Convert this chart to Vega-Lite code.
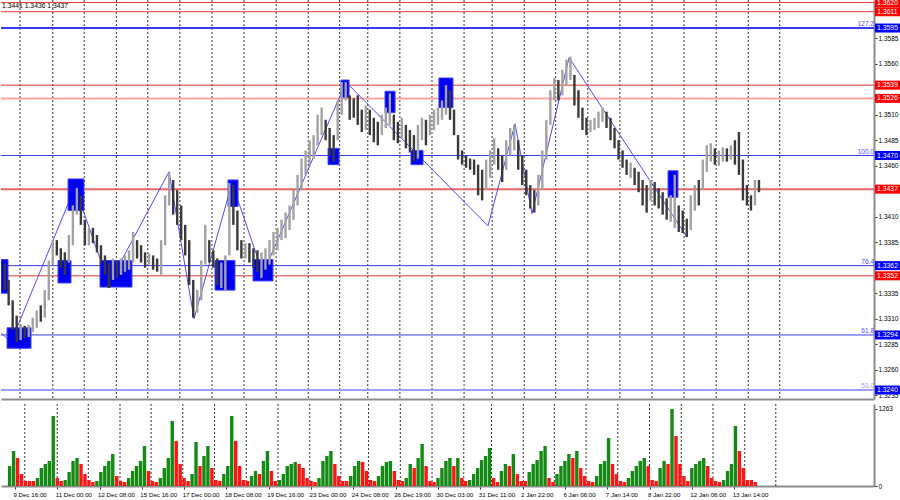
{
"$schema":"https://vega.github.io/schema/vega-lite/v6.json",
"padding":{"left":0,"top":-2,"right":0,"bottom":0},
"background":"white",
"spacing":3,
"config":{"view":{"stroke":null},"font":"Liberation Sans","axis":{"labelFont":"Liberation Sans","labelFontSize":6.5,"labelColor":"#000","grid":false,"minExtent":0}},
"datasets":{
"grid":[{"t":7.5},{"t":32},{"t":55.5},{"t":79.5},{"t":103},{"t":127},{"t":151},{"t":175},{"t":199},{"t":223},{"t":246.5},{"t":267.5},{"t":291.5},{"t":315.5},{"t":339.5},{"t":360.5},{"t":384.5},{"t":408},{"t":432},{"t":456},{"t":480},{"t":504},{"t":528},{"t":552},{"t":575.5}],
"levels":[{"p":1.3620,"k":"res"},{"p":1.3611,"k":"res"},{"p":1.3595,"k":"fibT","r":"127.2"},{"p":1.3539,"k":"res"},{"p":1.3526,"k":"res2"},{"p":1.3470,"k":"fib","r":"100.0"},{"p":1.3437,"k":"key"},{"p":1.3362,"k":"fib","r":"76.4"},{"p":1.3352,"k":"res"},{"p":1.3294,"k":"fib","r":"61.8"},{"p":1.3240,"k":"fibL","r":"50.0"}],
"zz":[{"t":-6.7,"p":1.3296},{"t":0.75,"p":1.3287},{"t":48.6,"p":1.3439},{"t":74,"p":1.3344},{"t":118.9,"p":1.3454},{"t":137.6,"p":1.3310},{"t":166,"p":1.3443},{"t":189.2,"p":1.3354},{"t":251.2,"p":1.3542},{"t":357.4,"p":1.3401},{"t":377.6,"p":1.3501},{"t":390.3,"p":1.3413},{"t":418,"p":1.3566},{"t":506.2,"p":1.3390}],
"boxes":[{"x1":-6.7,"x2":-1.5,"p1":1.3368,"p2":1.3335},{"x1":-2.2,"x2":15.7,"p1":1.3301,"p2":1.3281},{"x1":35.9,"x2":45.6,"p1":1.3367,"p2":1.3345},{"x1":43.4,"x2":55.3,"p1":1.3447,"p2":1.3416},{"x1":67.3,"x2":91.2,"p1":1.3367,"p2":1.3341},{"x1":153.3,"x2":168.2,"p1":1.3367,"p2":1.3338},{"x1":163,"x2":170.5,"p1":1.3446,"p2":1.3420},{"x1":181.7,"x2":196.6,"p1":1.3368,"p2":1.3347},{"x1":237.8,"x2":246,"p1":1.3477,"p2":1.3461},{"x1":247.5,"x2":253.5,"p1":1.3544,"p2":1.3527},{"x1":280.4,"x2":287.9,"p1":1.3533,"p2":1.3512},{"x1":299.8,"x2":308.8,"p1":1.3475,"p2":1.3461},{"x1":320.7,"x2":331.2,"p1":1.3546,"p2":1.3517},{"x1":492,"x2":499.4,"p1":1.3455,"p2":1.3429}],
"bars":[
{"t":-4,"h":1.3364,"l":1.3338,"d":"d","v":328,"vc":"g"},
{"t":-1,"h":1.3348,"l":1.3323,"d":"d","v":574,"vc":"g"},
{"t":2,"h":1.3328,"l":1.3299,"d":"d","v":459,"vc":"r"},
{"t":5,"h":1.3313,"l":1.3287,"d":"d","v":197,"vc":"r"},
{"t":8,"h":1.3304,"l":1.3289,"d":"u","v":82,"vc":"r"},
{"t":11,"h":1.3303,"l":1.3291,"d":"d","v":82,"vc":"r"},
{"t":14,"h":1.3304,"l":1.3292,"d":"u","v":82,"vc":"r"},
{"t":17,"h":1.3311,"l":1.3297,"d":"u","v":131,"vc":"g"},
{"t":20,"h":1.3318,"l":1.3301,"d":"u","v":295,"vc":"g"},
{"t":23,"h":1.3323,"l":1.3307,"d":"d","v":361,"vc":"g"},
{"t":26,"h":1.3338,"l":1.3311,"d":"u","v":410,"vc":"g"},
{"t":29,"h":1.3367,"l":1.3328,"d":"u","v":1148,"vc":"g"},
{"t":32,"h":1.3387,"l":1.3363,"d":"u","v":131,"vc":"r"},
{"t":35,"h":1.3387,"l":1.3372,"d":"d","v":82,"vc":"r"},
{"t":38,"h":1.3379,"l":1.3360,"d":"d","v":98,"vc":"g"},
{"t":41,"h":1.3375,"l":1.3353,"d":"d","v":230,"vc":"g"},
{"t":44,"h":1.3392,"l":1.3365,"d":"u","v":410,"vc":"g"},
{"t":47,"h":1.3421,"l":1.3382,"d":"u","v":459,"vc":"g"},
{"t":50,"h":1.3438,"l":1.3412,"d":"u","v":361,"vc":"r"},
{"t":53,"h":1.3431,"l":1.3402,"d":"d","v":197,"vc":"r"},
{"t":56,"h":1.3407,"l":1.3382,"d":"d","v":98,"vc":"r"},
{"t":59,"h":1.3399,"l":1.3382,"d":"u","v":66,"vc":"r"},
{"t":62,"h":1.3399,"l":1.3384,"d":"d","v":82,"vc":"g"},
{"t":65,"h":1.3392,"l":1.3375,"d":"d","v":230,"vc":"g"},
{"t":68,"h":1.3382,"l":1.3365,"d":"d","v":328,"vc":"g"},
{"t":71,"h":1.3372,"l":1.3353,"d":"d","v":410,"vc":"g"},
{"t":74,"h":1.3365,"l":1.3340,"d":"d","v":525,"vc":"g"},
{"t":77,"h":1.3369,"l":1.3348,"d":"u","v":164,"vc":"r"},
{"t":80,"h":1.3367,"l":1.3350,"d":"d","v":82,"vc":"r"},
{"t":83,"h":1.3369,"l":1.3353,"d":"u","v":66,"vc":"r"},
{"t":86,"h":1.3372,"l":1.3356,"d":"u","v":131,"vc":"g"},
{"t":89,"h":1.3377,"l":1.3358,"d":"u","v":246,"vc":"g"},
{"t":92,"h":1.3395,"l":1.3365,"d":"u","v":328,"vc":"g"},
{"t":95,"h":1.3387,"l":1.3369,"d":"d","v":410,"vc":"g"},
{"t":98,"h":1.3382,"l":1.3365,"d":"d","v":656,"vc":"g"},
{"t":101,"h":1.3375,"l":1.3360,"d":"d","v":246,"vc":"r"},
{"t":104,"h":1.3374,"l":1.3363,"d":"u","v":82,"vc":"r"},
{"t":107,"h":1.3372,"l":1.3358,"d":"d","v":66,"vc":"r"},
{"t":110,"h":1.3369,"l":1.3356,"d":"d","v":131,"vc":"g"},
{"t":113,"h":1.3387,"l":1.3353,"d":"u","v":295,"vc":"g"},
{"t":116,"h":1.3431,"l":1.3382,"d":"u","v":459,"vc":"g"},
{"t":119,"h":1.3453,"l":1.3421,"d":"u","v":1066,"vc":"g"},
{"t":122,"h":1.3446,"l":1.3412,"d":"d","v":738,"vc":"r"},
{"t":125,"h":1.3436,"l":1.3402,"d":"d","v":361,"vc":"r"},
{"t":128,"h":1.3421,"l":1.3387,"d":"d","v":131,"vc":"r"},
{"t":131,"h":1.3402,"l":1.3372,"d":"d","v":82,"vc":"r"},
{"t":134,"h":1.3387,"l":1.3343,"d":"d","v":197,"vc":"g"},
{"t":137,"h":1.3348,"l":1.3311,"d":"d","v":722,"vc":"g"},
{"t":140,"h":1.3338,"l":1.3316,"d":"u","v":328,"vc":"r"},
{"t":143,"h":1.3367,"l":1.3328,"d":"u","v":492,"vc":"g"},
{"t":146,"h":1.3402,"l":1.3363,"d":"u","v":656,"vc":"g"},
{"t":149,"h":1.3387,"l":1.3365,"d":"d","v":295,"vc":"r"},
{"t":152,"h":1.3377,"l":1.3360,"d":"d","v":98,"vc":"r"},
{"t":155,"h":1.3369,"l":1.3343,"d":"d","v":82,"vc":"r"},
{"t":158,"h":1.3365,"l":1.3340,"d":"u","v":197,"vc":"g"},
{"t":161,"h":1.3372,"l":1.3338,"d":"u","v":328,"vc":"g"},
{"t":164,"h":1.3443,"l":1.3372,"d":"u","v":1148,"vc":"g"},
{"t":167,"h":1.3441,"l":1.3402,"d":"d","v":738,"vc":"r"},
{"t":170,"h":1.3416,"l":1.3377,"d":"d","v":328,"vc":"r"},
{"t":173,"h":1.3387,"l":1.3369,"d":"d","v":98,"vc":"r"},
{"t":176,"h":1.3384,"l":1.3369,"d":"u","v":82,"vc":"r"},
{"t":179,"h":1.3384,"l":1.3365,"d":"d","v":164,"vc":"g"},
{"t":182,"h":1.3379,"l":1.3360,"d":"d","v":246,"vc":"g"},
{"t":185,"h":1.3377,"l":1.3356,"d":"d","v":197,"vc":"r"},
{"t":188,"h":1.3375,"l":1.3350,"d":"u","v":410,"vc":"g"},
{"t":191,"h":1.3379,"l":1.3358,"d":"u","v":574,"vc":"g"},
{"t":194,"h":1.3387,"l":1.3363,"d":"u","v":246,"vc":"r"},
{"t":197,"h":1.3395,"l":1.3372,"d":"u","v":82,"vc":"r"},
{"t":200,"h":1.3399,"l":1.3377,"d":"u","v":98,"vc":"g"},
{"t":203,"h":1.3407,"l":1.3387,"d":"u","v":197,"vc":"g"},
{"t":206,"h":1.3414,"l":1.3389,"d":"u","v":328,"vc":"g"},
{"t":209,"h":1.3421,"l":1.3397,"d":"u","v":361,"vc":"g"},
{"t":212,"h":1.3436,"l":1.3407,"d":"u","v":394,"vc":"g"},
{"t":215,"h":1.3451,"l":1.3421,"d":"u","v":361,"vc":"r"},
{"t":218,"h":1.3467,"l":1.3436,"d":"u","v":295,"vc":"r"},
{"t":221,"h":1.3475,"l":1.3451,"d":"u","v":131,"vc":"r"},
{"t":224,"h":1.3485,"l":1.3461,"d":"u","v":82,"vc":"r"},
{"t":227,"h":1.3490,"l":1.3467,"d":"u","v":66,"vc":"r"},
{"t":230,"h":1.3510,"l":1.3480,"d":"u","v":131,"vc":"g"},
{"t":233,"h":1.3517,"l":1.3490,"d":"u","v":410,"vc":"g"},
{"t":236,"h":1.3505,"l":1.3485,"d":"d","v":492,"vc":"g"},
{"t":239,"h":1.3497,"l":1.3470,"d":"d","v":574,"vc":"g"},
{"t":242,"h":1.3490,"l":1.3464,"d":"d","v":361,"vc":"r"},
{"t":245,"h":1.3524,"l":1.3485,"d":"u","v":164,"vc":"r"},
{"t":248,"h":1.3542,"l":1.3510,"d":"u","v":82,"vc":"r"},
{"t":251,"h":1.3542,"l":1.3524,"d":"u","v":82,"vc":"r"},
{"t":254,"h":1.3529,"l":1.3505,"d":"d","v":164,"vc":"g"},
{"t":257,"h":1.3526,"l":1.3507,"d":"d","v":328,"vc":"g"},
{"t":260,"h":1.3529,"l":1.3500,"d":"d","v":410,"vc":"g"},
{"t":263,"h":1.3515,"l":1.3493,"d":"d","v":394,"vc":"r"},
{"t":266,"h":1.3519,"l":1.3495,"d":"u","v":246,"vc":"r"},
{"t":269,"h":1.3515,"l":1.3490,"d":"d","v":98,"vc":"r"},
{"t":272,"h":1.3507,"l":1.3483,"d":"d","v":82,"vc":"r"},
{"t":275,"h":1.3503,"l":1.3480,"d":"d","v":164,"vc":"g"},
{"t":278,"h":1.3510,"l":1.3490,"d":"u","v":328,"vc":"g"},
{"t":281,"h":1.3517,"l":1.3497,"d":"u","v":394,"vc":"g"},
{"t":284,"h":1.3531,"l":1.3500,"d":"u","v":410,"vc":"g"},
{"t":287,"h":1.3510,"l":1.3485,"d":"d","v":246,"vc":"r"},
{"t":290,"h":1.3503,"l":1.3482,"d":"d","v":98,"vc":"r"},
{"t":293,"h":1.3507,"l":1.3487,"d":"u","v":82,"vc":"r"},
{"t":296,"h":1.3500,"l":1.3477,"d":"d","v":131,"vc":"g"},
{"t":299,"h":1.3495,"l":1.3473,"d":"d","v":361,"vc":"g"},
{"t":302,"h":1.3490,"l":1.3464,"d":"d","v":295,"vc":"r"},
{"t":305,"h":1.3500,"l":1.3467,"d":"u","v":459,"vc":"g"},
{"t":308,"h":1.3507,"l":1.3485,"d":"u","v":689,"vc":"g"},
{"t":311,"h":1.3505,"l":1.3480,"d":"d","v":328,"vc":"r"},
{"t":314,"h":1.3510,"l":1.3490,"d":"u","v":82,"vc":"r"},
{"t":317,"h":1.3515,"l":1.3495,"d":"u","v":66,"vc":"r"},
{"t":320,"h":1.3517,"l":1.3500,"d":"u","v":131,"vc":"g"},
{"t":323,"h":1.3524,"l":1.3505,"d":"u","v":295,"vc":"g"},
{"t":326,"h":1.3539,"l":1.3510,"d":"u","v":410,"vc":"g"},
{"t":329,"h":1.3534,"l":1.3505,"d":"d","v":459,"vc":"g"},
{"t":332,"h":1.3515,"l":1.3490,"d":"d","v":328,"vc":"r"},
{"t":335,"h":1.3490,"l":1.3466,"d":"d","v":459,"vc":"g"},
{"t":338,"h":1.3475,"l":1.3461,"d":"d","v":131,"vc":"r"},
{"t":341,"h":1.3470,"l":1.3458,"d":"d","v":82,"vc":"r"},
{"t":344,"h":1.3467,"l":1.3456,"d":"d","v":98,"vc":"g"},
{"t":347,"h":1.3466,"l":1.3451,"d":"d","v":197,"vc":"g"},
{"t":350,"h":1.3461,"l":1.3431,"d":"d","v":295,"vc":"g"},
{"t":353,"h":1.3456,"l":1.3426,"d":"d","v":426,"vc":"g"},
{"t":356,"h":1.3466,"l":1.3436,"d":"u","v":492,"vc":"g"},
{"t":359,"h":1.3475,"l":1.3448,"d":"u","v":623,"vc":"g"},
{"t":362,"h":1.3487,"l":1.3461,"d":"u","v":131,"vc":"r"},
{"t":365,"h":1.3477,"l":1.3456,"d":"d","v":66,"vc":"r"},
{"t":368,"h":1.3470,"l":1.3444,"d":"d","v":246,"vc":"g"},
{"t":371,"h":1.3485,"l":1.3456,"d":"u","v":361,"vc":"g"},
{"t":374,"h":1.3497,"l":1.3470,"d":"u","v":328,"vc":"r"},
{"t":377,"h":1.3500,"l":1.3475,"d":"u","v":525,"vc":"g"},
{"t":380,"h":1.3485,"l":1.3456,"d":"d","v":197,"vc":"r"},
{"t":383,"h":1.3470,"l":1.3441,"d":"d","v":82,"vc":"r"},
{"t":386,"h":1.3456,"l":1.3431,"d":"d","v":82,"vc":"r"},
{"t":389,"h":1.3441,"l":1.3418,"d":"d","v":230,"vc":"g"},
{"t":392,"h":1.3436,"l":1.3414,"d":"d","v":361,"vc":"g"},
{"t":395,"h":1.3451,"l":1.3421,"d":"u","v":426,"vc":"g"},
{"t":398,"h":1.3475,"l":1.3436,"d":"u","v":574,"vc":"g"},
{"t":401,"h":1.3505,"l":1.3466,"d":"u","v":656,"vc":"g"},
{"t":404,"h":1.3534,"l":1.3500,"d":"u","v":131,"vc":"r"},
{"t":407,"h":1.3546,"l":1.3524,"d":"u","v":66,"vc":"r"},
{"t":410,"h":1.3544,"l":1.3524,"d":"d","v":197,"vc":"g"},
{"t":413,"h":1.3554,"l":1.3529,"d":"u","v":328,"vc":"g"},
{"t":416,"h":1.3564,"l":1.3539,"d":"u","v":410,"vc":"g"},
{"t":419,"h":1.3567,"l":1.3544,"d":"u","v":525,"vc":"g"},
{"t":422,"h":1.3549,"l":1.3519,"d":"d","v":459,"vc":"r"},
{"t":425,"h":1.3534,"l":1.3507,"d":"d","v":574,"vc":"g"},
{"t":428,"h":1.3517,"l":1.3495,"d":"d","v":295,"vc":"r"},
{"t":431,"h":1.3507,"l":1.3490,"d":"d","v":164,"vc":"r"},
{"t":434,"h":1.3505,"l":1.3493,"d":"u","v":82,"vc":"r"},
{"t":437,"h":1.3507,"l":1.3495,"d":"u","v":66,"vc":"r"},
{"t":440,"h":1.3513,"l":1.3497,"d":"u","v":164,"vc":"g"},
{"t":443,"h":1.3517,"l":1.3503,"d":"u","v":361,"vc":"g"},
{"t":446,"h":1.3513,"l":1.3497,"d":"d","v":410,"vc":"g"},
{"t":449,"h":1.3507,"l":1.3485,"d":"d","v":787,"vc":"g"},
{"t":452,"h":1.3497,"l":1.3477,"d":"d","v":361,"vc":"r"},
{"t":455,"h":1.3485,"l":1.3466,"d":"d","v":197,"vc":"r"},
{"t":458,"h":1.3475,"l":1.3458,"d":"d","v":82,"vc":"r"},
{"t":461,"h":1.3466,"l":1.3451,"d":"d","v":66,"vc":"r"},
{"t":464,"h":1.3463,"l":1.3448,"d":"u","v":131,"vc":"g"},
{"t":467,"h":1.3458,"l":1.3441,"d":"d","v":246,"vc":"g"},
{"t":470,"h":1.3454,"l":1.3434,"d":"d","v":328,"vc":"g"},
{"t":473,"h":1.3446,"l":1.3421,"d":"d","v":410,"vc":"g"},
{"t":476,"h":1.3441,"l":1.3414,"d":"d","v":459,"vc":"g"},
{"t":479,"h":1.3446,"l":1.3426,"d":"u","v":328,"vc":"r"},
{"t":482,"h":1.3444,"l":1.3421,"d":"d","v":98,"vc":"r"},
{"t":485,"h":1.3438,"l":1.3418,"d":"d","v":82,"vc":"r"},
{"t":488,"h":1.3434,"l":1.3412,"d":"d","v":295,"vc":"g"},
{"t":491,"h":1.3428,"l":1.3407,"d":"d","v":410,"vc":"g"},
{"t":494,"h":1.3431,"l":1.3405,"d":"u","v":361,"vc":"r"},
{"t":497,"h":1.3451,"l":1.3399,"d":"u","v":1263,"vc":"g"},
{"t":500,"h":1.3421,"l":1.3395,"d":"d","v":820,"vc":"r"},
{"t":503,"h":1.3416,"l":1.3394,"d":"d","v":361,"vc":"r"},
{"t":506,"h":1.3408,"l":1.3390,"d":"d","v":164,"vc":"r"},
{"t":509,"h":1.3431,"l":1.3397,"d":"u","v":82,"vc":"r"},
{"t":512,"h":1.3441,"l":1.3416,"d":"u","v":295,"vc":"g"},
{"t":515,"h":1.3446,"l":1.3421,"d":"d","v":361,"vc":"g"},
{"t":518,"h":1.3466,"l":1.3436,"d":"u","v":410,"vc":"g"},
{"t":521,"h":1.3480,"l":1.3454,"d":"u","v":459,"vc":"g"},
{"t":524,"h":1.3482,"l":1.3464,"d":"u","v":328,"vc":"r"},
{"t":527,"h":1.3477,"l":1.3461,"d":"d","v":131,"vc":"r"},
{"t":530,"h":1.3475,"l":1.3460,"d":"u","v":82,"vc":"r"},
{"t":533,"h":1.3478,"l":1.3464,"d":"u","v":66,"vc":"r"},
{"t":536,"h":1.3477,"l":1.3464,"d":"d","v":98,"vc":"g"},
{"t":539,"h":1.3480,"l":1.3466,"d":"u","v":246,"vc":"g"},
{"t":542,"h":1.3485,"l":1.3461,"d":"d","v":361,"vc":"g"},
{"t":545,"h":1.3493,"l":1.3451,"d":"d","v":984,"vc":"g"},
{"t":548,"h":1.3466,"l":1.3426,"d":"d","v":574,"vc":"r"},
{"t":551,"h":1.3441,"l":1.3421,"d":"d","v":295,"vc":"r"},
{"t":554,"h":1.3431,"l":1.3416,"d":"d","v":98,"vc":"r"},
{"t":557,"h":1.3446,"l":1.3421,"d":"u","v":98,"vc":"r"},
{"t":560,"h":1.3446,"l":1.3434,"d":"d","v":66,"vc":"r"}
]},
"vconcat":[
{"width":873,"height":399,
"resolve":{"axis":{"x":"independent","y":"independent"}},
"layer":[
{"data":{"name":"grid"},"mark":{"type":"rule","color":"#333333","strokeDash":[2,2],"strokeWidth":1},
 "encoding":{"x":{"field":"t","type":"quantitative","scale":{"domain":[-6.73,646],"nice":false,"zero":false},"axis":null}}},
{"data":{"name":"levels"},"mark":{"type":"rule"},
 "encoding":{"y":{"field":"p","type":"quantitative","scale":{"domain":[1.32312,1.36225],"nice":false,"zero":false},
   "axis":{"title":null,"orient":"right","values":[1.3235,1.326,1.3285,1.331,1.3335,1.3385,1.341,1.346,1.3485,1.351,1.356,1.3585],"format":".4f","tickSize":3,"tickColor":"#333333","labelPadding":1,"labelFontSize":6.5,"labelOverlap":false,"labelFlush":false,"domainColor":"#8c8c8c","domainWidth":2,"grid":false}},
  "color":{"condition":[{"test":"datum.k=='res2'","value":"#ffa3a3"},{"test":"datum.k=='key'","value":"#eb6464"},{"test":"datum.k=='fibL'","value":"#9e9eff"},{"test":"datum.k=='fib'||datum.k=='fibT'","value":"#3a3af2"}],"value":"#e83535"},
  "strokeWidth":{"condition":{"test":"datum.k=='res2'||datum.k=='key'||datum.k=='fibL'||datum.k=='fibT'","value":2},"value":1}}},
{"data":{"name":"zz"},"mark":{"type":"line","color":"#4a4aff","strokeWidth":1,"clip":true},
 "encoding":{"x":{"field":"t","type":"quantitative","scale":{"domain":[-6.73,646],"nice":false,"zero":false},"axis":null},
  "y":{"field":"p","type":"quantitative","scale":{"domain":[1.32312,1.36225],"nice":false,"zero":false},"axis":null}}},
{"data":{"name":"boxes"},"mark":{"type":"rect","fill":"#0000f0","stroke":"#3d3dff","strokeWidth":1,"clip":true},
 "encoding":{"x":{"field":"x1","type":"quantitative","scale":{"domain":[-6.73,646],"nice":false,"zero":false},"axis":null},"x2":{"field":"x2"},
  "y":{"field":"p1","type":"quantitative","scale":{"domain":[1.32312,1.36225],"nice":false,"zero":false},"axis":null},"y2":{"field":"p2"}}},
{"data":{"name":"bars"},"mark":{"type":"rule","strokeWidth":2.4,"clip":true},
 "encoding":{"x":{"field":"t","type":"quantitative","scale":{"domain":[-6.73,646],"nice":false,"zero":false},
   "axis":{"title":null,"orient":"bottom","labels":false,"ticks":false,"domain":true,"domainColor":"#8c8c8c","domainWidth":2,"grid":false}},
  "y":{"field":"l","type":"quantitative","scale":{"domain":[1.32312,1.36225],"nice":false,"zero":false},"axis":null},"y2":{"field":"h"},
  "color":{"condition":{"test":"datum.d=='u'","value":"#a2a2a2"},"value":"#3a3a3a"}}},
{"data":{"name":"levels"},"mark":{"type":"point","shape":"M-1,-0.36H1V0.36H-1Z","size":625,"filled":true,"opacity":1,"strokeWidth":0},
 "encoding":{"x":{"datum":656.1,"type":"quantitative","scale":{"domain":[-6.73,646],"nice":false,"zero":false},"axis":null},
  "y":{"field":"p","type":"quantitative","scale":{"domain":[1.32312,1.36225],"nice":false,"zero":false},"axis":null},
  "color":{"condition":{"test":"indexof(datum.k,'fib')==0","value":"#0000ff"},"value":"#ff0000"}}},
{"data":{"name":"levels"},"mark":{"type":"text","fontSize":6.8,"font":"Liberation Sans","color":"#ffffff","align":"center","baseline":"middle"},
 "encoding":{"x":{"datum":656.1,"type":"quantitative","scale":{"domain":[-6.73,646],"nice":false,"zero":false},"axis":null},
  "y":{"field":"p","type":"quantitative","scale":{"domain":[1.32312,1.36225],"nice":false,"zero":false},"axis":null},
  "text":{"field":"p","type":"quantitative","format":".4f"}}},
{"data":{"name":"levels"},"transform":[{"filter":"isValid(datum.r)"}],"mark":{"type":"text","fontSize":6.5,"font":"Liberation Sans","align":"right","baseline":"bottom","dy":-1},
 "encoding":{"x":{"datum":646,"type":"quantitative","scale":{"domain":[-6.73,646],"nice":false,"zero":false},"axis":null},
  "y":{"field":"p","type":"quantitative","scale":{"domain":[1.32312,1.36225],"nice":false,"zero":false},"axis":null},
  "text":{"field":"r","type":"nominal"},
  "color":{"condition":{"test":"datum.k=='fibL'","value":"#9a9aff"},"value":"#4d4dff"}}},
{"data":{"values":[{"s":"1.3441 1.3436 1.3437"}]},"mark":{"type":"text","fontSize":6.8,"font":"Liberation Sans","align":"left","baseline":"middle","color":"#000000","dx":1},
 "encoding":{"x":{"datum":-6.73,"type":"quantitative","scale":{"domain":[-6.73,646],"nice":false,"zero":false},"axis":null},
  "y":{"datum":1.36165,"type":"quantitative","scale":{"domain":[1.32312,1.36225],"nice":false,"zero":false},"axis":null},
  "text":{"field":"s","type":"nominal"}}}
]},
{"width":873,"height":82,
"resolve":{"axis":{"x":"independent","y":"independent"}},
"layer":[
{"data":{"name":"grid"},"mark":{"type":"rule","color":"#333333","strokeDash":[2,2],"strokeWidth":1},
 "encoding":{"x":{"field":"t","type":"quantitative","scale":{"domain":[-6.73,646],"nice":false,"zero":false},"axis":null}}},
{"data":{"name":"bars"},"mark":{"type":"bar","size":3.4,"orient":"vertical"},
 "encoding":{"x":{"field":"t","type":"quantitative","scale":{"domain":[-6.73,646],"nice":false,"zero":false},
  "axis":{"title":null,"orient":"bottom","values":[0,32,64,96,128,160,192,224,256,288,320,352,384,416,448,480,512,544],
   "labelExpr":"['9 Dec 16:00','11 Dec 00:00','12 Dec 08:00','15 Dec 16:00','17 Dec 00:00','18 Dec 08:00','19 Dec 16:00','23 Dec 00:00','24 Dec 08:00','26 Dec 19:00','30 Dec 03:00','31 Dec 11:00','2 Jan 22:00','6 Jan 06:00','7 Jan 14:00','8 Jan 22:00','12 Jan 06:00','13 Jan 14:00'][round(datum.value/32)]",
   "labelAlign":"left","labelOffset":-2,"labelPadding":2,"tickSize":3,"tickColor":"#333333","labelFontSize":6.2,"labelOverlap":false,"labelFlush":false,"labelBound":false,"domainColor":"#8c8c8c","domainWidth":2,"grid":false}},
  "y":{"field":"v","type":"quantitative","scale":{"domain":[0,1345],"nice":false},
   "axis":{"title":null,"orient":"right","values":[0,1263],"format":"d","tickSize":3,"tickColor":"#333333","labelPadding":1,"labelFontSize":6.5,"labelOverlap":false,"labelFlush":false,"domainColor":"#8c8c8c","domainWidth":2,"grid":false}},
  "color":{"condition":{"test":"datum.vc=='g'","value":"#138a13"},"value":"#ff1414"}}}
]}
]
}
